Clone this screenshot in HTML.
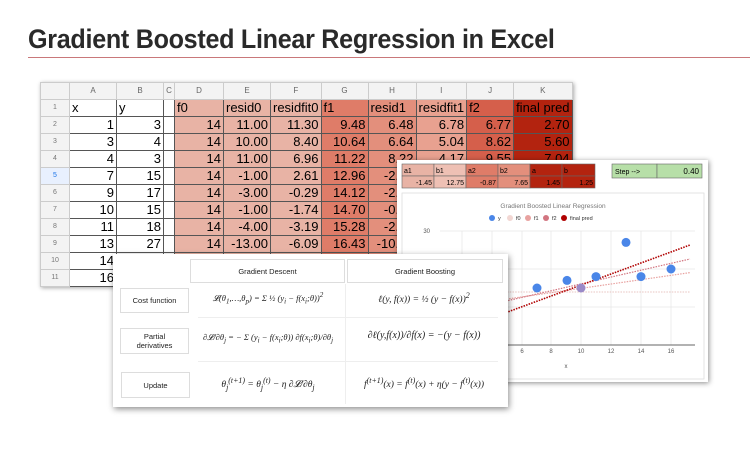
<!DOCTYPE html>
<html><head><meta charset="utf-8"><style>
body{margin:0;width:750px;height:456px;background:#fff;position:relative;overflow:hidden;font-family:"Liberation Sans",sans-serif}
.abs{position:absolute}
#title{left:28px;top:24px;font-size:27px;font-weight:bold;color:#2a2a2a;white-space:nowrap;transform-origin:0 0;transform:scaleX(0.93);letter-spacing:-0.3px}
#rule{left:28px;top:57px;width:722px;height:1px;background:#c9787a}
table.s{border-collapse:collapse;table-layout:fixed}
table.s td{border:1px solid #555;height:16px;padding:0 2px;font-size:13px;text-align:right;overflow:hidden;white-space:nowrap;line-height:16px}
table.s tr.h td{background:#f3f3f3;color:#666;font-size:8px;text-align:center;border-color:#ccc}
table.s td.n{background:#f3f3f3;color:#777;font-size:7px;text-align:center;border-color:#ccc}
table.s td.l{text-align:left}
.d{background:#e8b3a5}.g{background:#df7c68}.hh{background:#e38f7c}.i{background:#e8a190}.j{background:#d55f4b}.k{background:#b3230f}
#sheet{left:40px;top:82px;box-shadow:1px 1px 4px rgba(0,0,0,.35)}
#chart{left:397px;top:160px;width:311px;height:222px;background:#fff;box-shadow:1px 1px 5px rgba(0,0,0,.45)}
#ftab{left:113px;top:254px;width:395px;height:153px;background:#fff;box-shadow:1px 2px 6px rgba(0,0,0,.45)}
.box{position:absolute;border:1px solid #ddd;background:#fff;font-family:"Liberation Sans",sans-serif;font-size:7.5px;color:#222;display:flex;align-items:center;justify-content:center;text-align:center}
.f{position:absolute;font-family:"Liberation Serif",serif;font-style:italic;font-size:8.5px;color:#222;white-space:nowrap;text-align:center}
</style></head><body>
<div id="title" class="abs">Gradient Boosted Linear Regression in Excel</div>
<div id="rule" class="abs"></div>

<table id="sheet" class="s abs">
<colgroup><col style="width:29px"><col style="width:47px"><col style="width:47px"><col style="width:11px"><col style="width:49px"><col style="width:47px"><col style="width:48px"><col style="width:47px"><col style="width:48px"><col style="width:47px"><col style="width:47px"><col style="width:53px"></colgroup>
<tr class="h"><td></td><td>A</td><td>B</td><td>C</td><td>D</td><td>E</td><td>F</td><td>G</td><td>H</td><td>I</td><td>J</td><td>K</td></tr>
<tr><td class="n">1</td><td class="l">x</td><td class="l">y</td><td></td><td class="l d">f0</td><td class="l d">resid0</td><td class="l d">residfit0</td><td class="l g">f1</td><td class="l hh">resid1</td><td class="l i">residfit1</td><td class="l j">f2</td><td class="l k">final pred</td></tr>
<tr><td class="n">2</td><td>1</td><td>3</td><td></td><td class="d">14</td><td class="d">11.00</td><td class="d">11.30</td><td class="g">9.48</td><td class="hh">6.48</td><td class="i">6.78</td><td class="j">6.77</td><td class="k">2.70</td></tr>
<tr><td class="n">3</td><td>3</td><td>4</td><td></td><td class="d">14</td><td class="d">10.00</td><td class="d">8.40</td><td class="g">10.64</td><td class="hh">6.64</td><td class="i">5.04</td><td class="j">8.62</td><td class="k">5.60</td></tr>
<tr><td class="n">4</td><td>4</td><td>3</td><td></td><td class="d">14</td><td class="d">11.00</td><td class="d">6.96</td><td class="g">11.22</td><td class="hh">8.22</td><td class="i">4.17</td><td class="j">9.55</td><td class="k">7.04</td></tr>
<tr><td class="n" style="background:#e8f0fe;color:#1a73e8">5</td><td>7</td><td>15</td><td></td><td class="d">14</td><td class="d">-1.00</td><td class="d">2.61</td><td class="g">12.96</td><td class="hh">-2.04</td><td class="i">1.0</td><td class="j">12.3</td><td class="k">11.4</td></tr>
<tr><td class="n">6</td><td>9</td><td>17</td><td></td><td class="d">14</td><td class="d">-3.00</td><td class="d">-0.29</td><td class="g">14.12</td><td class="hh">-2.88</td><td class="i">0.1</td><td class="j">14.2</td><td class="k">14.3</td></tr>
<tr><td class="n">7</td><td>10</td><td>15</td><td></td><td class="d">14</td><td class="d">-1.00</td><td class="d">-1.74</td><td class="g">14.70</td><td class="hh">-0.30</td><td class="i">-0.4</td><td class="j">15.1</td><td class="k">15.8</td></tr>
<tr><td class="n">8</td><td>11</td><td>18</td><td></td><td class="d">14</td><td class="d">-4.00</td><td class="d">-3.19</td><td class="g">15.28</td><td class="hh">-2.72</td><td class="i">-0.9</td><td class="j">16.0</td><td class="k">17.2</td></tr>
<tr><td class="n">9</td><td>13</td><td>27</td><td></td><td class="d">14</td><td class="d">-13.00</td><td class="d">-6.09</td><td class="g">16.43</td><td class="hh">-10.57</td><td class="i">-1.7</td><td class="j">17.9</td><td class="k">20.1</td></tr>
<tr><td class="n">10</td><td>14</td><td></td><td></td><td class="d"></td><td class="d"></td><td class="d"></td><td class="g"></td><td class="hh"></td><td class="i"></td><td class="j"></td><td class="k"></td></tr>
<tr><td class="n">11</td><td>16</td><td></td><td></td><td class="d"></td><td class="d"></td><td class="d"></td><td class="g"></td><td class="hh"></td><td class="i"></td><td class="j"></td><td class="k"></td></tr>
</table>

<div id="chart" class="abs">
<svg width="311" height="222" viewBox="397 160 311 222" style="position:absolute;left:0;top:0">
 <g font-family="Liberation Sans, sans-serif" font-size="8">
  <rect x="402" y="163" width="194" height="26" fill="#fff"/>
  <g stroke="#666" stroke-width="0.6">
   <rect x="402" y="164" width="32" height="12" fill="#e8b3a5"/><rect x="434" y="164" width="32" height="12" fill="#eec0b4"/>
   <rect x="466" y="164" width="32" height="12" fill="#df7c68"/><rect x="498" y="164" width="32" height="12" fill="#e38f7c"/>
   <rect x="530" y="164" width="32" height="12" fill="#b3230f"/><rect x="562" y="164" width="33" height="12" fill="#b3230f"/>
   <rect x="402" y="176" width="32" height="12" fill="#e8b3a5"/><rect x="434" y="176" width="32" height="12" fill="#eec0b4"/>
   <rect x="466" y="176" width="32" height="12" fill="#df7c68"/><rect x="498" y="176" width="32" height="12" fill="#e38f7c"/>
   <rect x="530" y="176" width="32" height="12" fill="#b3230f"/><rect x="562" y="176" width="33" height="12" fill="#b3230f"/>
   <rect x="612" y="164" width="45" height="14" fill="#b7dfa8"/><rect x="657" y="164" width="45" height="14" fill="#b7dfa8"/>
  </g>
  <g font-size="7">
   <text x="404" y="173">a1</text><text x="436" y="173">b1</text><text x="468" y="173">a2</text><text x="500" y="173">b2</text><text x="532" y="173">a</text><text x="564" y="173">b</text>
   <g text-anchor="end"><text x="432" y="185">-1.45</text><text x="464" y="185">12.75</text><text x="496" y="185">-0.87</text><text x="528" y="185">7.65</text><text x="560" y="185">1.45</text><text x="593" y="185">1.25</text></g>
   <text x="615" y="174">Step --&gt;</text><text x="699" y="174" text-anchor="end" font-size="8">0.40</text>
  </g>
  <rect x="402" y="193" width="302" height="186" fill="#fff" stroke="#ddd" stroke-width="0.8"/>
  <text x="553" y="208" text-anchor="middle" fill="#777" font-size="6.5">Gradient Boosted Linear Regression</text>
  <g font-size="5.5" fill="#333">
   <circle cx="492" cy="218" r="3" fill="#4a86e8"/><text x="498" y="220">y</text>
   <circle cx="510" cy="218" r="3" fill="#f2d7d3"/><text x="516" y="220">f0</text>
   <circle cx="528" cy="218" r="3" fill="#e8a2a0"/><text x="534" y="220">f1</text>
   <circle cx="546" cy="218" r="3" fill="#d27580"/><text x="552" y="220">f2</text>
   <circle cx="564" cy="218" r="3" fill="#b00000"/><text x="570" y="220">final pred</text>
  </g>
  <g stroke="#e6e6e6" stroke-width="0.7">
   <line x1="440" y1="231" x2="695" y2="231"/><line x1="440" y1="269" x2="695" y2="269"/><line x1="440" y1="307" x2="695" y2="307"/>
   <line x1="462" y1="231" x2="462" y2="345"/><line x1="492" y1="231" x2="492" y2="345"/><line x1="522" y1="231" x2="522" y2="345"/><line x1="551" y1="231" x2="551" y2="345"/><line x1="581" y1="231" x2="581" y2="345"/><line x1="611" y1="231" x2="611" y2="345"/><line x1="641" y1="231" x2="641" y2="345"/><line x1="671" y1="231" x2="671" y2="345"/>
  </g>
  <line x1="440" y1="345" x2="695" y2="345" stroke="#333" stroke-width="0.7"/>
  <text x="430" y="233" font-size="6" fill="#555" text-anchor="end">30</text>
  <g font-size="6" fill="#555" text-anchor="middle">
   <text x="522" y="353">6</text><text x="551" y="353">8</text><text x="581" y="353">10</text><text x="611" y="353">12</text><text x="641" y="353">14</text><text x="671" y="353">16</text>
   <text x="566" y="368">x</text>
  </g>
  <g stroke-dasharray="1.5,1.2" fill="none">
   <line x1="445" y1="292" x2="690" y2="292" stroke="#e8c4c0" stroke-width="1"/>
   <line x1="445" y1="308" x2="690" y2="272.6" stroke="#e8a2a0" stroke-width="1.2"/>
   <line x1="445" y1="315" x2="690" y2="259" stroke="#d27580" stroke-width="1.2"/>
   <line x1="445" y1="335" x2="690" y2="245" stroke="#b00000" stroke-width="1.6"/>
  </g>
  <g fill="#4a86e8">
   <circle cx="537" cy="288" r="4.5"/><circle cx="567" cy="280.4" r="4.5"/><circle cx="581" cy="288" r="4.5" fill="#9a8ac8"/><circle cx="596" cy="276.6" r="4.5"/><circle cx="626" cy="242.4" r="4.5"/><circle cx="641" cy="276.6" r="4.5"/><circle cx="671" cy="269" r="4.5"/>
  </g>
 </g>
</svg>
</div>

<div id="ftab" class="abs">
 <div class="box" style="left:77px;top:5px;width:153px;height:22px">Gradient Descent</div>
 <div class="box" style="left:234px;top:5px;width:154px;height:22px">Gradient Boosting</div>
 <div class="box" style="left:7px;top:34px;width:67px;height:23px">Cost function</div>
 <div class="box" style="left:7px;top:74px;width:67px;height:24px">Partial<br>derivatives</div>
 <div class="box" style="left:8px;top:118px;width:67px;height:24px">Update</div>
 <div style="position:absolute;left:232px;top:30px;width:1px;height:120px;background:#eee"></div>
 <div style="position:absolute;left:85px;top:63px;width:300px;height:1px;background:#eee"></div>
 <div style="position:absolute;left:85px;top:107px;width:300px;height:1px;background:#eee"></div>
 <div class="f" style="left:80px;top:37px;width:150px">𝓛(θ<sub>1</sub>,…,θ<sub>p</sub>) = Σ ½ (y<sub>i</sub> − f(x<sub>i</sub>;θ))<sup>2</sup></div>
 <div class="f" style="left:236px;top:37px;width:150px;font-size:9.5px">ℓ(y, f(x)) = ½ (y − f(x))<sup>2</sup></div>
 <div class="f" style="left:80px;top:78px;width:150px">∂𝓛/∂θ<sub>j</sub> = − Σ (y<sub>i</sub> − f(x<sub>i</sub>;θ)) ∂f(x<sub>i</sub>;θ)/∂θ<sub>j</sub></div>
 <div class="f" style="left:236px;top:76px;width:150px;font-size:10px">∂ℓ(y,f(x))/∂f(x) = −(y − f(x))</div>
 <div class="f" style="left:80px;top:122px;width:150px;font-size:9.5px">θ<sub>j</sub><sup>(t+1)</sup> = θ<sub>j</sub><sup>(t)</sup> − η ∂𝓛/∂θ<sub>j</sub></div>
 <div class="f" style="left:236px;top:122px;width:150px;font-size:9.5px">f<sup>(t+1)</sup>(x) = f<sup>(t)</sup>(x) + η(y − f<sup>(t)</sup>(x))</div>
</div>
</body></html>
